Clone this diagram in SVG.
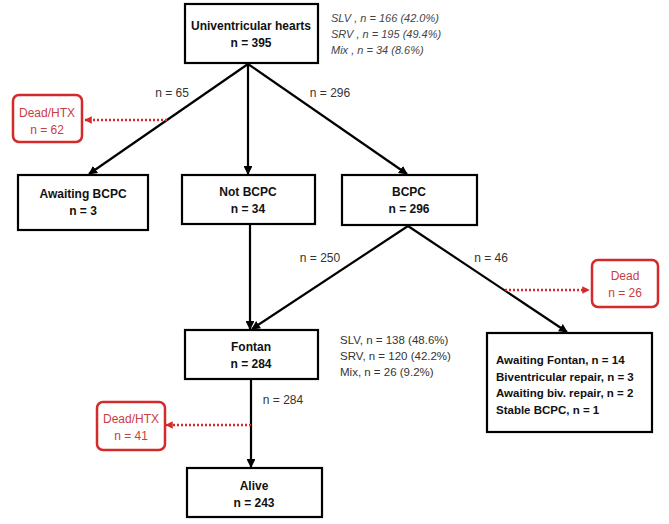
<svg xmlns="http://www.w3.org/2000/svg" width="669" height="524" viewBox="0 0 669 524">
<style>
.box{fill:#fff;stroke:#000;stroke-width:2.2}
.rbox{fill:#fff;stroke:#d42a2a;stroke-width:2.5}
.b{font-family:"Liberation Sans",Arial,sans-serif;font-size:12px;font-weight:bold;fill:#111;text-anchor:middle}
.bl{font-family:"Liberation Sans",Arial,sans-serif;font-size:11.5px;font-weight:bold;fill:#111}
.r{font-family:"Liberation Sans",Arial,sans-serif;font-size:12px;fill:#c84040;text-anchor:middle}
.g{font-family:"Liberation Sans",Arial,sans-serif;font-size:11.5px;fill:#333}
.gi{font-family:"Liberation Sans",Arial,sans-serif;font-size:11px;fill:#444;font-style:italic}
.lbl{font-family:"Liberation Sans",Arial,sans-serif;font-size:12px;fill:#333;text-anchor:middle}
.ln{stroke:#000;stroke-width:2.2;fill:none}
.dl{stroke:#d42a2a;stroke-width:2.5;stroke-dasharray:2 2;fill:none}
</style>
<defs>
<marker id="ah" viewBox="0 0 10 10" refX="9" refY="5" markerWidth="4" markerHeight="4" orient="auto"><path d="M0,0L10,5L0,10z" fill="#000"/></marker>
<marker id="rh" viewBox="0 0 10 10" refX="9" refY="5" markerWidth="3" markerHeight="3" orient="auto"><path d="M0,0L10,5L0,10z" fill="#d42a2a"/></marker>
</defs>
<g id="connectors">
<line class="ln" x1="248" y1="64" x2="89" y2="174" marker-end="url(#ah)"/>
<line class="ln" x1="248" y1="64" x2="248" y2="174" marker-end="url(#ah)"/>
<line class="ln" x1="248" y1="64" x2="407" y2="174" marker-end="url(#ah)"/>
<line class="ln" x1="250" y1="225" x2="250" y2="329" marker-end="url(#ah)"/>
<line class="ln" x1="408" y1="226" x2="252" y2="329" marker-end="url(#ah)"/>
<line class="ln" x1="408" y1="226" x2="567" y2="332" marker-end="url(#ah)"/>
<line class="ln" x1="251" y1="380" x2="251" y2="467" marker-end="url(#ah)"/>
<line class="dl" x1="167" y1="120" x2="85" y2="120" marker-end="url(#rh)"/>
<line class="dl" x1="505" y1="290" x2="589" y2="290" marker-end="url(#rh)"/>
<line class="dl" x1="251" y1="425" x2="166" y2="425" marker-end="url(#rh)"/>
<text class="lbl" x="172" y="97">n = 65</text>
<text class="lbl" x="330" y="97">n = 296</text>
<text class="lbl" x="320" y="262">n = 250</text>
<text class="lbl" x="491" y="262">n = 46</text>
<text class="lbl" x="283" y="404">n = 284</text>
</g>
<g id="univentricular">
<rect class="box" x="185" y="4" width="133" height="59"/>
<text class="b" x="251" y="30">Univentricular hearts</text>
<text class="b" x="251" y="47">n = 395</text>
<text class="gi" x="331" y="22">SLV , n = 166  (42.0%)</text>
<text class="gi" x="331" y="38">SRV , n = 195  (49.4%)</text>
<text class="gi" x="331" y="54">Mix , n = 34  (8.6%)</text>
</g>
<g id="dead62">
<rect class="rbox" x="13" y="95" width="69" height="47" rx="6"/>
<text class="r" x="47" y="117">Dead/HTX</text>
<text class="r" x="47" y="134">n = 62</text>
</g>
<g id="awaiting">
<rect class="box" x="18" y="175" width="130" height="55"/>
<text class="b" x="83" y="198">Awaiting BCPC</text>
<text class="b" x="83" y="215">n = 3</text>
</g>
<g id="notbcpc">
<rect class="box" x="182" y="175" width="133" height="49"/>
<text class="b" x="248" y="196">Not BCPC</text>
<text class="b" x="248" y="213">n = 34</text>
</g>
<g id="bcpc">
<rect class="box" x="342" y="175" width="135" height="50"/>
<text class="b" x="409" y="196">BCPC</text>
<text class="b" x="409" y="213">n = 296</text>
</g>
<g id="dead26">
<rect class="rbox" x="592" y="260" width="66" height="47" rx="6"/>
<text class="r" x="625" y="280">Dead</text>
<text class="r" x="625" y="297">n = 26</text>
</g>
<g id="fontan">
<rect class="box" x="185" y="330" width="133" height="49"/>
<text class="b" x="251" y="351">Fontan</text>
<text class="b" x="251" y="368">n = 284</text>
<text class="g" x="340" y="344">SLV, n = 138  (48.6%)</text>
<text class="g" x="340" y="360">SRV, n = 120  (42.2%)</text>
<text class="g" x="340" y="376">Mix, n = 26  (9.2%)</text>
</g>
<g id="others">
<rect class="box" x="487" y="333" width="165" height="99"/>
<text class="bl" x="496" y="364">Awaiting Fontan, n = 14</text>
<text class="bl" x="496" y="381">Biventricular repair, n = 3</text>
<text class="bl" x="496" y="397">Awaiting biv. repair, n  = 2</text>
<text class="bl" x="496" y="414">Stable BCPC,  n = 1</text>
</g>
<g id="dead41">
<rect class="rbox" x="97" y="402" width="68" height="48" rx="6"/>
<text class="r" x="131" y="423">Dead/HTX</text>
<text class="r" x="131" y="440">n = 41</text>
</g>
<g id="alive">
<rect class="box" x="187" y="468" width="135" height="49"/>
<text class="b" x="254" y="490">Alive</text>
<text class="b" x="254" y="507">n = 243</text>
</g>
</svg>
